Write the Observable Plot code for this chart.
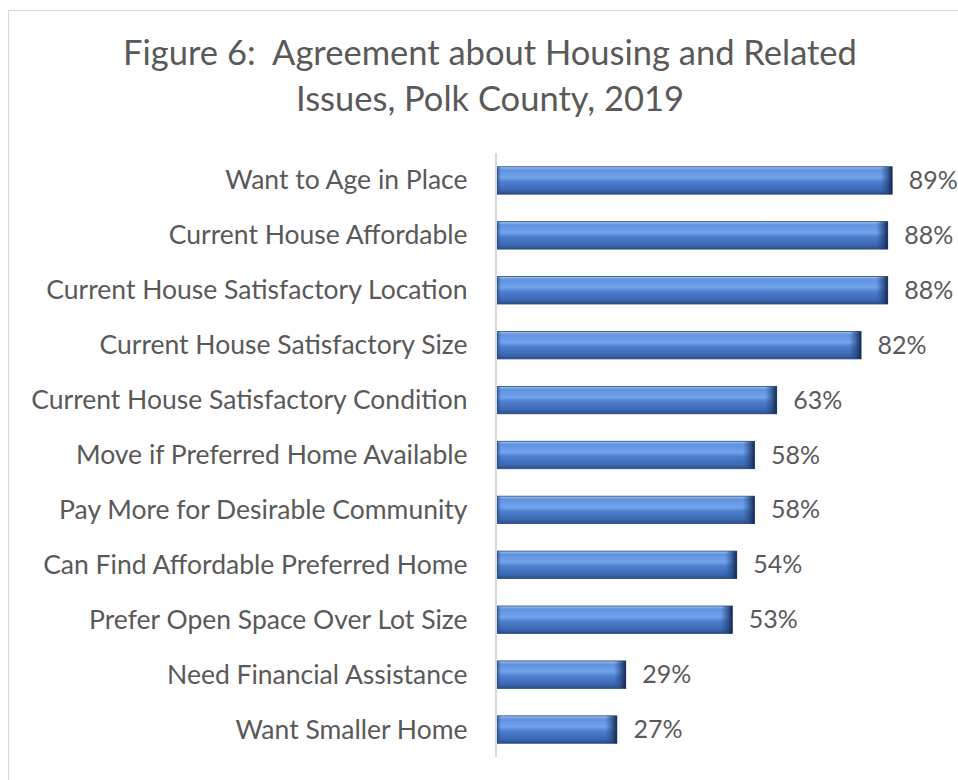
<!DOCTYPE html>
<html>
<head>
<meta charset="utf-8">
<script src="https://cdn.jsdelivr.net/npm/d3@7"></script>
<script src="https://cdn.jsdelivr.net/npm/@observablehq/plot@0.6"></script>
<style>
  html, body { margin: 0; padding: 0; background: #fff; }
  body { width: 958px; height: 780px; overflow: hidden; position: relative; font-family: Lato, sans-serif; }
  #frame { position: absolute; left: 8px; top: 10px; width: 1000px; height: 1000px; border-left: 1px solid #d9d9d9; border-top: 1px solid #d9d9d9; }
  #title { position: absolute; left: 0; top: 29px; width: 980px; text-align: center; font-size: 34.5px; line-height: 46px; color: #595959; }
  #chart { position: absolute; left: 0; top: 140px; }
</style>
</head>
<body>
<div id="frame"></div>
<div id="title">Figure 6:&nbsp; Agreement about Housing and Related<br>Issues, Polk County, 2019</div>
<div id="chart"></div>
<script>
const categories = [
  "Want to Age in Place",
  "Current House Affordable",
  "Current House Satisfactory Location",
  "Current House Satisfactory Size",
  "Current House Satisfactory Condition",
  "Move if Preferred Home Available",
  "Pay More for Desirable Community",
  "Can Find Affordable Preferred Home",
  "Prefer Open Space Over Lot Size",
  "Need Financial Assistance",
  "Want Smaller Home"
];
const values = [89, 88, 88, 82, 63, 58, 58, 54, 53, 29, 27];
const labels = ["89%", "88%", "88%", "82%", "63%", "58%", "58%", "54%", "53%", "29%", "27%"];

const data = categories.map((c, i) => ({category: c, value: values[i], label: labels[i]}));

const chart = Plot.plot({
  width: 958,
  height: 640,
  marginLeft: 497,
  marginRight: 17,
  marginTop: 13,
  marginBottom: 23,
  style: {fontFamily: "Lato, sans-serif", background: "transparent"},
  x: {domain: [0, 100], axis: null},
  y: {domain: categories, paddingInner: 0.5, paddingOuter: 0.25, round: false, label: null},
  marks: [
    Plot.axisY({tickSize: 0, tickPadding: 30, fontSize: 26.5, color: "#595959", label: null}),
    Plot.barX(data, {y: "category", x: "value", fill: "url(#barGrad)", stroke: "#2a4a80", strokeWidth: 0.8}),
    Plot.barX(data, {y: "category", x1: d => d.value - 2.6, x2: "value", fill: "url(#bevelGrad)"}),
    Plot.barX(data, {y: "category", x1: 0, x2: 0.9, fill: "url(#bevelLeft)"}),
    Plot.ruleX([0], {x: () => 0, dx: -1.5, stroke: "#d9d9d9", strokeWidth: 2}),
    Plot.text(data, {y: "category", x: "value", text: "label", textAnchor: "start", dx: 16, fontSize: 25, fill: "#595959"})
  ]
});

const ns = "http://www.w3.org/2000/svg";
const defs = document.createElementNS(ns, "defs");
defs.innerHTML = `
  <linearGradient id="barGrad" x1="0" y1="0" x2="0" y2="1">
    <stop offset="0" stop-color="#a3c3ef"/>
    <stop offset="0.12" stop-color="#5f92de"/>
    <stop offset="0.4" stop-color="#72a3ec"/>
    <stop offset="0.55" stop-color="#4d7fd0"/>
    <stop offset="0.85" stop-color="#3c68b2"/>
    <stop offset="1" stop-color="#2c4c85"/>
  </linearGradient>
  <linearGradient id="bevelGrad" x1="0" y1="0" x2="1" y2="0">
    <stop offset="0" stop-color="#2a4d8a" stop-opacity="0"/>
    <stop offset="0.5" stop-color="#27477f" stop-opacity="0.6"/>
    <stop offset="1" stop-color="#13274d" stop-opacity="1"/>
  </linearGradient>
  <linearGradient id="bevelLeft" x1="0" y1="0" x2="1" y2="0">
    <stop offset="0" stop-color="#2a4d8a" stop-opacity="0.8"/>
    <stop offset="1" stop-color="#2a4d8a" stop-opacity="0"/>
  </linearGradient>`;
chart.insertBefore(defs, chart.firstChild);
document.getElementById("chart").appendChild(chart);
</script>
</body>
</html>
